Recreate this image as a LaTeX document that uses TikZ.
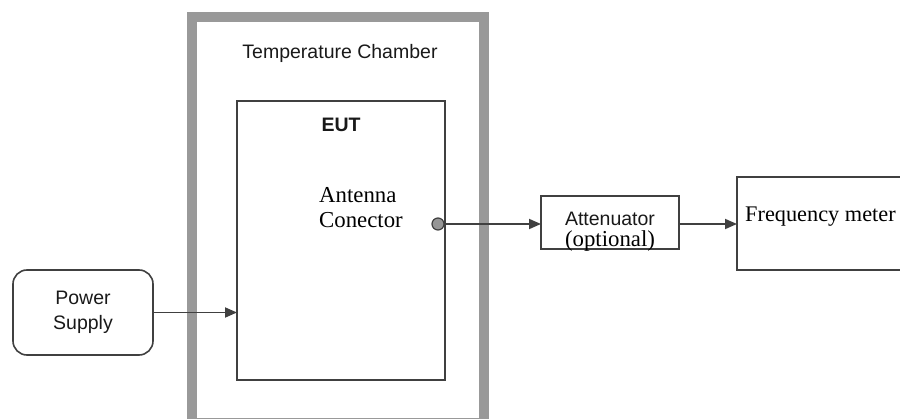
\documentclass[tikz,border=0pt]{standalone}
\usepackage{fontspec}
\setmainfont{Liberation Serif}
\setsansfont{Liberation Sans}
\usetikzlibrary{arrows.meta, positioning}
\definecolor{frame}{RGB}{153, 153, 153}
\definecolor{ink}{RGB}{64, 64, 64}
\definecolor{plug}{RGB}{150, 150, 150}

\begin{document}
\begin{tikzpicture}[x=1pt, y=-1pt,
    box/.style={draw=ink, line width=1.6pt, inner sep=0pt, outer sep=0pt, anchor=north west},
    sanstext/.style={font=\sffamily\fontsize{19.5}{25}\selectfont, text=black!90},
    seriftext/.style={font=\rmfamily\fontsize{22.8}{27}\selectfont, text=black},
    link/.style={draw=ink, line width=1.8pt, -{Triangle[length=12pt, width=10pt]}}]

  \useasboundingbox (0, 0) rectangle (900, 419);

  % chamber and equipment
  \node[box, draw=frame, line width=10pt, minimum width=292pt, minimum height=406pt]
    (chamber) at (191.5, 17) {};
  \node[box, minimum width=208pt, minimum height=279pt] (eut) at (237, 101) {};
  \node[circle, draw=ink, fill=plug, line width=1.2pt, minimum size=12pt, inner sep=0pt]
    (conn) at (438, 224) {};
  \node[box, minimum width=138pt, minimum height=53pt] (att) at (541, 196) {};
  \node[box, minimum width=230pt, minimum height=93pt] (meter) at (737, 177) {};
  \node[box, rounded corners=14pt, minimum width=140pt, minimum height=85pt,
    sanstext, align=center] (power) at (13, 270) {Power\\Supply};

  % labels
  \node[sanstext, anchor=base] (chamberlabel) at (340, 59) {Temperature Chamber};
  \node[sanstext, font=\sffamily\bfseries\fontsize{19.5}{25}\selectfont, anchor=base]
    (eutlabel) at (341, 132) {EUT};
  \node[seriftext, anchor=base west, inner sep=0pt] (antlabel) at (319, 203) {Antenna};
  \node[seriftext, anchor=base west, inner sep=0pt] (conlabel) at (319, 228) {Conector};
  \node[sanstext, anchor=base, inner sep=0pt] (attlabel) at (610, 226) {Attenuator};
  \node[seriftext, anchor=base, inner sep=0pt] (optlabel) at (610, 247) {(optional)};
  \node[seriftext, font=\rmfamily\fontsize{22.3}{27}\selectfont, anchor=base west, inner sep=0pt]
    (meterlabel) at (745, 222) {Frequency meter};

  % connections
  \draw[link] (power.east) -- (power.east -| eut.west);
  \draw[link] (conn.east) -- (conn.east -| att.west);
  \draw[link] (att.east |- conn.east) -- (conn.east -| meter.west);

\end{tikzpicture}
\end{document}
